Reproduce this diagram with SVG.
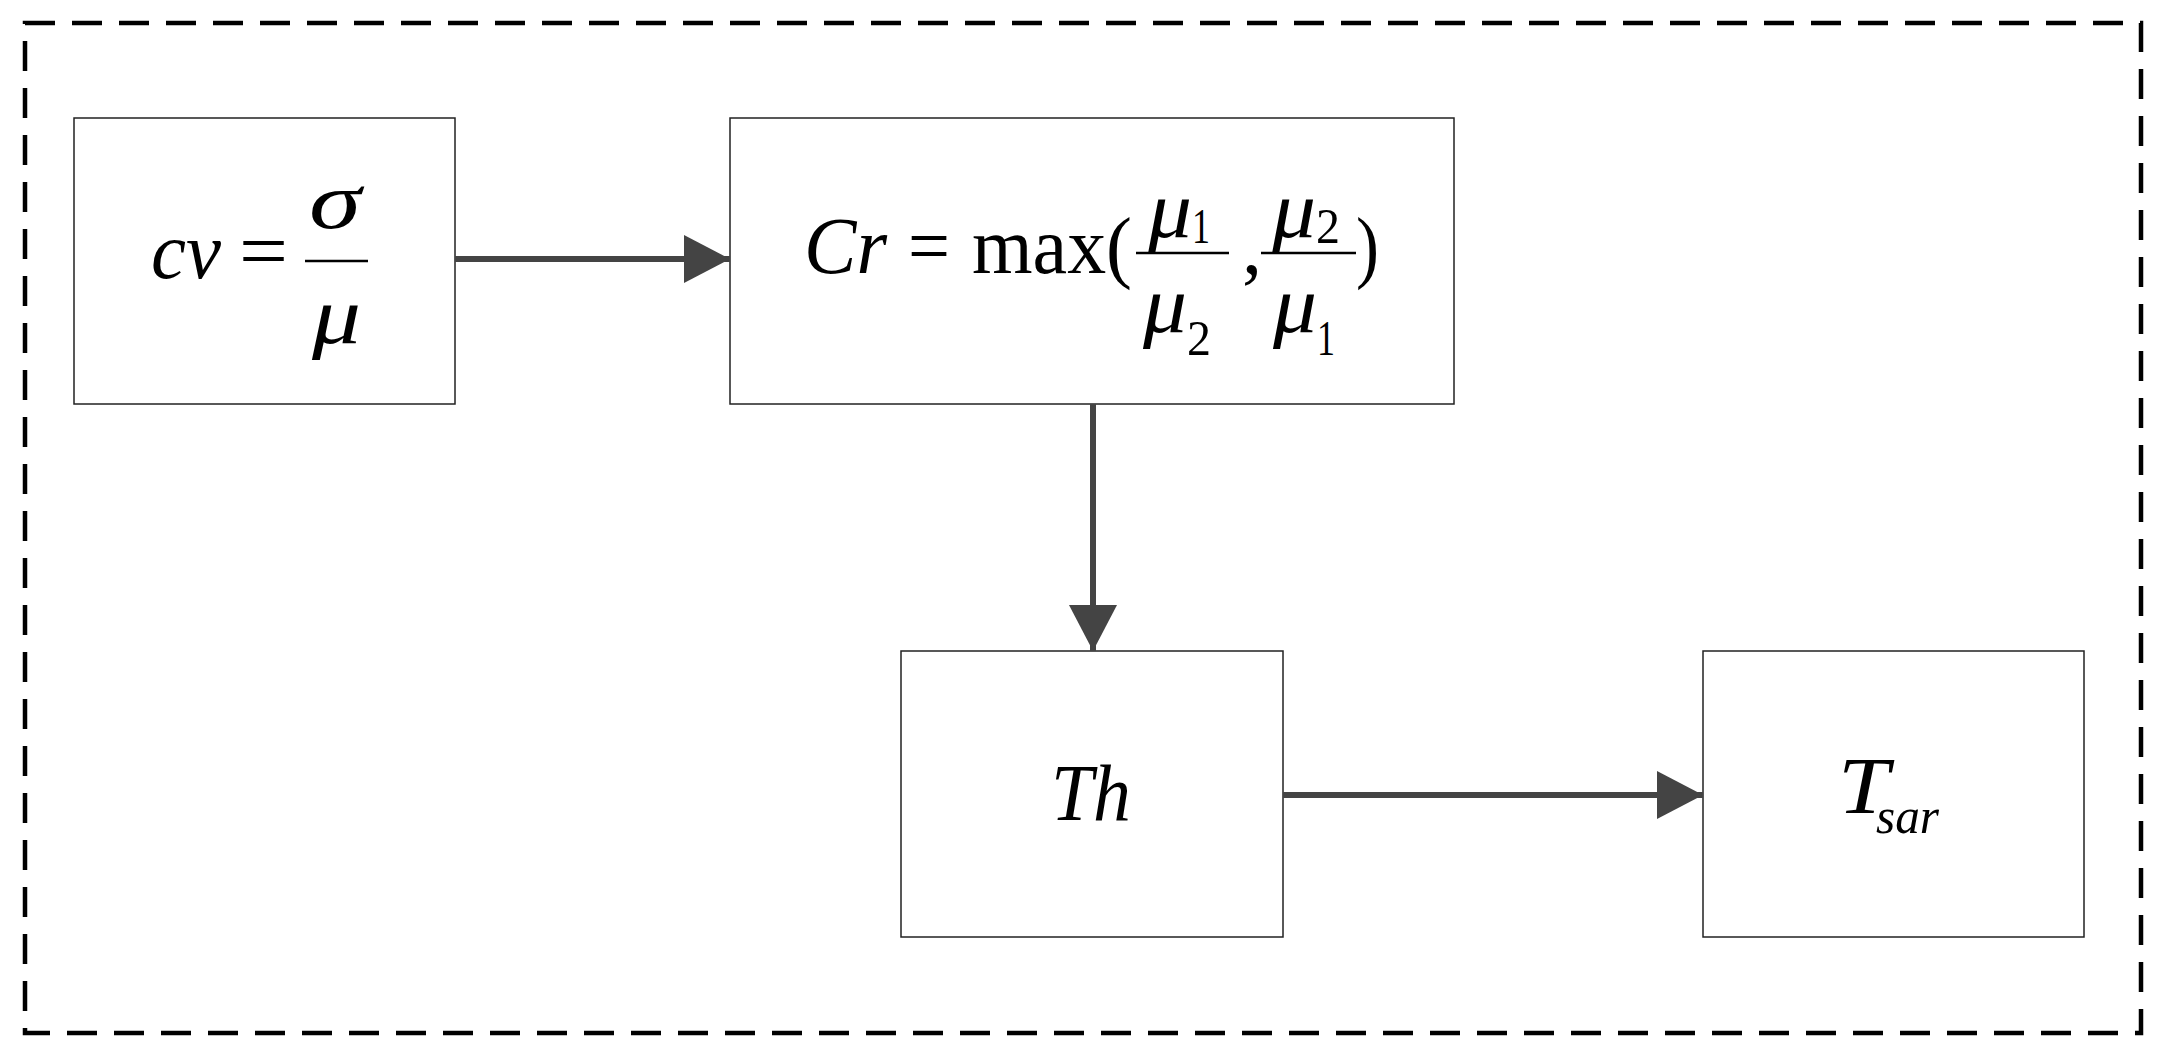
<svg xmlns="http://www.w3.org/2000/svg" width="2163" height="1053" viewBox="0 0 2163 1053">
<defs>
<style>
.box{fill:#fff;stroke:#222;stroke-width:1.5}
.t{font-family:"Liberation Serif","Times New Roman",serif;font-size:80px;fill:#000}
.i{font-style:italic}
.s{font-size:50px}
.bar{stroke:#000;stroke-width:2.5}
.c{stroke:#444;stroke-width:6;fill:none}
</style>
<marker id="ah" markerUnits="userSpaceOnUse" markerWidth="48" markerHeight="48" refX="46" refY="24" orient="auto"><path d="M0,0 L46,24 L0,48 Z" fill="#444"/></marker>
</defs>
<rect x="25" y="23" width="2116" height="1010" fill="none" stroke="#000" stroke-width="4.5" stroke-dasharray="30,17"/>
<g id="n1">
<rect class="box" x="74" y="118" width="381" height="286"/>
<text class="t i" x="151" y="278" textLength="70" lengthAdjust="spacingAndGlyphs">cv</text>
<text class="t" x="239" y="278" textLength="49" lengthAdjust="spacingAndGlyphs">=</text>
<line class="bar" x1="305" y1="261" x2="368" y2="261"/>
<text class="t i" x="309" y="228" textLength="52" lengthAdjust="spacingAndGlyphs">σ</text>
<text class="t i" x="312" y="343" textLength="49" lengthAdjust="spacingAndGlyphs">μ</text>
</g>
<g id="n2">
<rect class="box" x="730" y="118" width="724" height="286"/>
<text class="t i" x="804" y="273" textLength="83" lengthAdjust="spacingAndGlyphs">Cr</text>
<text class="t" x="908" y="273" textLength="42" lengthAdjust="spacingAndGlyphs">=</text>
<text class="t" x="972" y="273" textLength="160" lengthAdjust="spacingAndGlyphs">max(</text>
<line class="bar" x1="1136" y1="253" x2="1229" y2="253"/>
<text class="t i" x="1148" y="237" textLength="44" lengthAdjust="spacingAndGlyphs">μ</text><text class="t s" x="1192" y="243" textLength="18" lengthAdjust="spacingAndGlyphs">1</text>
<text class="t i" x="1143" y="332" textLength="44" lengthAdjust="spacingAndGlyphs">μ</text><text class="t s" x="1187" y="355" textLength="24" lengthAdjust="spacingAndGlyphs">2</text>
<text class="t" x="1242" y="273">,</text>
<line class="bar" x1="1261" y1="253" x2="1356" y2="253"/>
<text class="t i" x="1272" y="237" textLength="44" lengthAdjust="spacingAndGlyphs">μ</text><text class="t s" x="1316" y="243" textLength="24" lengthAdjust="spacingAndGlyphs">2</text>
<text class="t i" x="1273" y="332" textLength="44" lengthAdjust="spacingAndGlyphs">μ</text><text class="t s" x="1317" y="355" textLength="18" lengthAdjust="spacingAndGlyphs">1</text>
<text class="t" x="1356" y="273" textLength="23" lengthAdjust="spacingAndGlyphs">)</text>
</g>
<g id="n3">
<rect class="box" x="901" y="651" width="382" height="286"/>
<text class="t i" x="1051" y="820" textLength="80" lengthAdjust="spacingAndGlyphs">Th</text>
</g>
<g id="n4">
<rect class="box" x="1703" y="651" width="381" height="286"/>
<text class="t i" x="1838" y="813" textLength="51" lengthAdjust="spacingAndGlyphs">T</text>
<text class="t i s" x="1876" y="833" textLength="63" lengthAdjust="spacingAndGlyphs">sar</text>
</g>
<g id="connectors">
<line class="c" x1="455" y1="259" x2="730" y2="259" marker-end="url(#ah)"/>
<line class="c" x1="1093" y1="404" x2="1093" y2="651" marker-end="url(#ah)"/>
<line class="c" x1="1283" y1="795" x2="1703" y2="795" marker-end="url(#ah)"/>
</g>
</svg>
